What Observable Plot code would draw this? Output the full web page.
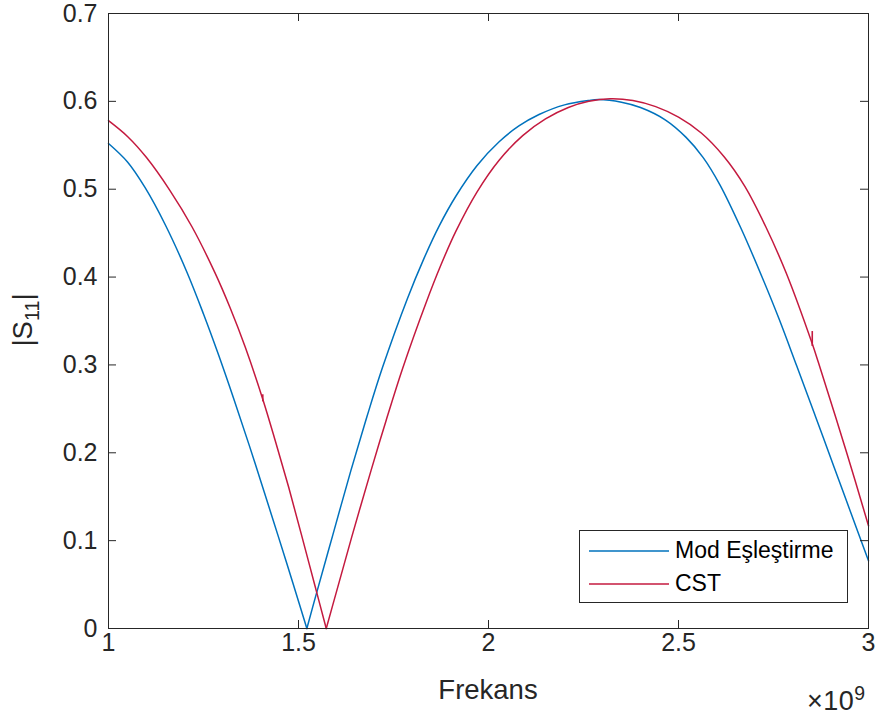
<!DOCTYPE html>
<html>
<head>
<meta charset="utf-8">
<script src="https://cdn.jsdelivr.net/npm/d3@7"></script>
<script src="https://cdn.jsdelivr.net/npm/@observablehq/plot@0.6"></script>
<style>
  html, body { margin: 0; padding: 0; background: #ffffff; }
  #wrap { position: relative; width: 879px; height: 715px; overflow: hidden;
          font-family: "Liberation Sans", Arial, Helvetica, sans-serif; color: #262626; }
  #chart svg { display: block; }
  .ylab { position: absolute; left: 26px; top: 320px; font-size: 27.5px; white-space: nowrap;
          transform: translate(-50%, -50%) rotate(-90deg); line-height: 1; }
  .ylab sub { font-size: 0.72em; vertical-align: -0.35em; }
  .xlab { position: absolute; left: 488px; top: 690px; font-size: 27.5px; transform: translate(-50%, -50%);
          white-space: nowrap; line-height: 1; }
  .expo { position: absolute; left: 807px; top: 684px; font-size: 27px; white-space: nowrap; line-height: 1; letter-spacing: 0.5px; }
  .expo sup { font-size: 0.72em; vertical-align: 0.5em; }
  .legend { position: absolute; left: 579px; top: 530px; width: 269px; height: 73px;
            border: 1px solid #262626; background: #ffffff; box-sizing: border-box; }
  .legend svg { position: absolute; left: 0; top: 0; }
  .legend .tx { position: absolute; left: 95px; font-size: 23px; color: #000; line-height: 1; white-space: nowrap; }
</style>
</head>
<body>
<div id="wrap">
  <div id="chart"></div>
</div>
<script>
// ---- data (frequency in GHz, i.e. ×10^9 Hz) ----
const seriesNames = ["Mod Eşleştirme", "CST"];
const seriesColors = ["#0072BD", "#C41A3F"];

const modFreq = [1.000, 1.050, 1.096, 1.150, 1.207, 1.250, 1.290, 1.330, 1.370, 1.410, 1.446, 1.485, 1.522,
                 1.546, 1.590, 1.638, 1.680, 1.721, 1.787, 1.830, 1.870, 1.914, 1.970, 2.028, 2.080, 2.133,
                 2.200, 2.264, 2.290, 2.350, 2.400, 2.465, 2.520, 2.565, 2.609, 2.665, 2.719, 2.765, 2.811,
                 2.860, 2.910, 2.955, 3.000];
const modS11  = [0.552, 0.531, 0.502, 0.459, 0.405, 0.358, 0.311, 0.261, 0.209, 0.155, 0.106, 0.052, 0.000,
                 0.038, 0.106, 0.180, 0.241, 0.297, 0.376, 0.421, 0.458, 0.492, 0.527, 0.554, 0.572, 0.585,
                 0.596, 0.601, 0.602, 0.599, 0.593, 0.579, 0.559, 0.536, 0.505, 0.455, 0.401, 0.352, 0.299,
                 0.242, 0.183, 0.130, 0.077];

const cstFreq = [1.000, 1.050, 1.100, 1.161, 1.220, 1.280, 1.320, 1.360, 1.406, 1.440, 1.474, 1.507, 1.540, 1.573,
                 1.600, 1.640, 1.691, 1.730, 1.774, 1.835, 1.875, 1.914, 1.970, 2.028, 2.090, 2.150, 2.210,
                 2.264, 2.320, 2.380, 2.440, 2.500, 2.560, 2.620, 2.675, 2.730, 2.784, 2.852, 2.868, 2.942, 3.000];
const cstS11  = [0.578, 0.560, 0.536, 0.499, 0.457, 0.405, 0.365, 0.320, 0.261, 0.212, 0.161, 0.108, 0.054, 0.000,
                 0.042, 0.104, 0.180, 0.236, 0.296, 0.370, 0.414, 0.452, 0.497, 0.533, 0.561, 0.580, 0.593,
                 0.600, 0.603, 0.601, 0.594, 0.582, 0.564, 0.537, 0.503, 0.457, 0.404, 0.324, 0.303, 0.201, 0.117];

// small vertical glitches visible on the CST trace
const glitchFreq = [1.406, 2.852];
const glitchLow  = [0.258, 0.321];
const glitchHigh = [0.266, 0.338];

const xTicks = [1, 1.5, 2, 2.5, 3];
const xTickLabels = ["1", "1.5", "2", "2.5", "3"];
const yTicks = [0, 0.1, 0.2, 0.3, 0.4, 0.5, 0.6, 0.7];
const yTickLabels = ["0", "0.1", "0.2", "0.3", "0.4", "0.5", "0.6", "0.7"];

const xLabel = "Frekans";

// ---- build table: split each trace at its minimum so the V-shaped null stays sharp ----
function buildRows(name, fs, vs) {
  let iMin = 0;
  vs.forEach((v, i) => { if (v < vs[iMin]) iMin = i; });
  const rows = [];
  fs.forEach((f, i) => {
    if (i <= iMin) rows.push({series: name, key: name + "-a", f, v: vs[i]});
    if (i >= iMin) rows.push({series: name, key: name + "-b", f, v: vs[i]});
  });
  return rows;
}
const rows = [
  ...buildRows(seriesNames[0], modFreq, modS11),
  ...buildRows(seriesNames[1], cstFreq, cstS11)
];
const glitches = glitchFreq.map((f, i) => ({series: seriesNames[1], f, lo: glitchLow[i], hi: glitchHigh[i]}));

const axisColor = "#262626";
const fontFam = '"Liberation Sans", Arial, Helvetica, sans-serif';
const W = 879, H = 715, mL = 108, mR = 11, mT = 13, mB = 87;
const innerW = W - mL - mR, innerH = H - mT - mB, tickLen = 8;

const chart = Plot.plot({
  width: W,
  height: H,
  marginLeft: mL,
  marginRight: mR,
  marginTop: mT,
  marginBottom: mB,
  style: {fontFamily: fontFam, fontSize: "25px", color: axisColor, background: "#ffffff", overflow: "visible"},
  x: {domain: [1, 3], label: null},
  y: {domain: [0, 0.7], label: null},
  color: {domain: seriesNames, range: seriesColors},
  marks: [
    Plot.line(rows, {x: "f", y: "v", z: "key", stroke: "series", curve: "catmull-rom", strokeWidth: 1.5}),
    Plot.ruleX(glitches, {x: "f", y1: "lo", y2: "hi", stroke: "series", strokeWidth: 1.6}),
    // inward ticks on all four sides
    Plot.ruleX(xTicks, {x: d => d, insetTop: innerH - tickLen, stroke: axisColor}),
    Plot.ruleX(xTicks, {x: d => d, insetBottom: innerH - tickLen, stroke: axisColor}),
    Plot.ruleY(yTicks, {y: d => d, insetRight: innerW - tickLen, stroke: axisColor}),
    Plot.ruleY(yTicks, {y: d => d, insetLeft: innerW - tickLen, stroke: axisColor}),
    Plot.frame({stroke: axisColor, strokeWidth: 1}),
    // tick labels
    Plot.axisX(xTicks, {anchor: "bottom", tickSize: 0, tickPadding: 5, label: null,
      tickFormat: d => xTickLabels[xTicks.indexOf(d)], fontSize: 25, fill: axisColor}),
    Plot.axisY(yTicks, {anchor: "left", tickSize: 0, tickPadding: 11, label: null,
      tickFormat: d => yTickLabels[yTicks.indexOf(d)], fontSize: 25, fill: axisColor})
  ]
});
document.getElementById("chart").appendChild(chart);

// ---- text around the plot ----
const wrap = document.getElementById("wrap");
const yl = document.createElement("div");
yl.className = "ylab";
yl.innerHTML = "|S<sub>11</sub>|";
wrap.appendChild(yl);

const xl = document.createElement("div");
xl.className = "xlab";
xl.textContent = xLabel;
wrap.appendChild(xl);

const ex = document.createElement("div");
ex.className = "expo";
ex.innerHTML = "×10<sup>9</sup>";
wrap.appendChild(ex);

// legend
const lg = document.createElement("div");
lg.className = "legend";
const ns = "http://www.w3.org/2000/svg";
const lsvg = document.createElementNS(ns, "svg");
lsvg.setAttribute("width", 267);
lsvg.setAttribute("height", 71);
const rowY = [20, 53];
seriesNames.forEach((name, i) => {
  const ln = document.createElementNS(ns, "line");
  ln.setAttribute("x1", 9); ln.setAttribute("x2", 89);
  ln.setAttribute("y1", rowY[i]); ln.setAttribute("y2", rowY[i]);
  ln.setAttribute("stroke", seriesColors[i]);
  ln.setAttribute("stroke-width", 1.5);
  lsvg.appendChild(ln);
  const tx = document.createElement("div");
  tx.className = "tx";
  tx.style.top = (rowY[i] - 12) + "px";
  tx.textContent = name;
  lg.appendChild(tx);
});
lg.appendChild(lsvg);
wrap.appendChild(lg);
</script>
</body>
</html>
